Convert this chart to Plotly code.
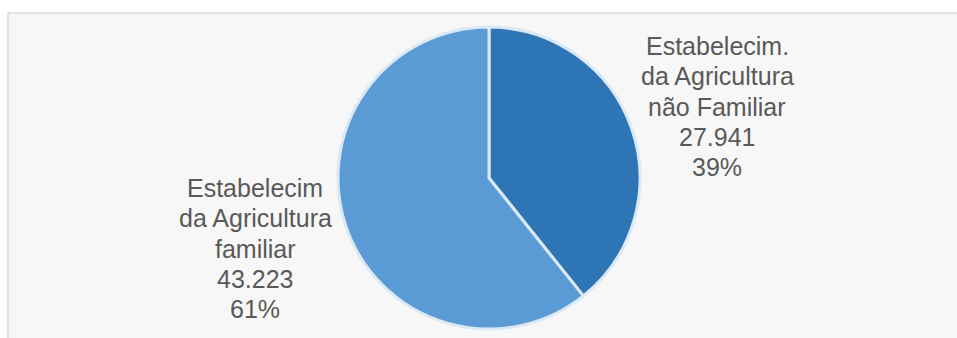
import plotly.graph_objects as go

labels = ["Estabelecim.<br>da Agricultura<br>não Familiar", "Estabelecim<br>da Agricultura<br>familiar"]
values = [27941, 43223]
value_text = ["27.941", "43.223"]
colors = ["#2e75b6", "#5b9bd5"]

W, H = 957, 338
cx, cy, r = 489, 178, 151

fig = go.Figure()
fig.add_trace(go.Pie(
    labels=labels,
    values=values,
    sort=False,
    direction="clockwise",
    rotation=0,
    marker=dict(colors=colors, line=dict(color="#dbe8f5", width=3)),
    textinfo="none",
    showlegend=False,
    hoverinfo="skip",
    domain=dict(x=[(cx - r) / W, (cx + r) / W], y=[1 - (cy + r) / H, 1 - (cy - r) / H]),
))

# label blocks: (center x, first baseline y) in pixels
label_pos = [(717, 55), (255, 197)]
LINE = 30.3
FS = 25
total = sum(values)
for i, (lab, v, vt) in enumerate(zip(labels, values, value_text)):
    lines = lab.split("<br>") + [vt, f"{round(v / total * 100)}%"]
    x_c, y0 = label_pos[i]
    for j, ln in enumerate(lines):
        base = y0 + j * LINE
        ymid = base - 0.36 * FS
        fig.add_annotation(
            text=ln, xref="paper", yref="paper",
            x=x_c / W, y=1 - ymid / H,
            xanchor="center", yanchor="middle", showarrow=False,
            font=dict(family="Liberation Sans, Arial, sans-serif", size=FS, color="#595959"),
        )

fig.add_shape(type="rect", xref="paper", yref="paper",
              x0=8 / W, x1=1.05, y0=-0.05, y1=1 - 13 / H,
              fillcolor="#f7f7f7", line=dict(color="#d9d9d9", width=1.5), layer="below")

fig.update_layout(
    width=W, height=H,
    margin=dict(l=0, r=0, t=0, b=0),
    paper_bgcolor="white",
    plot_bgcolor="white",
)

fig.write_html(
    "out.html",
    config={"displayModeBar": False},
    post_script="document.body.style.margin='0';document.body.style.overflow='hidden';",
)
